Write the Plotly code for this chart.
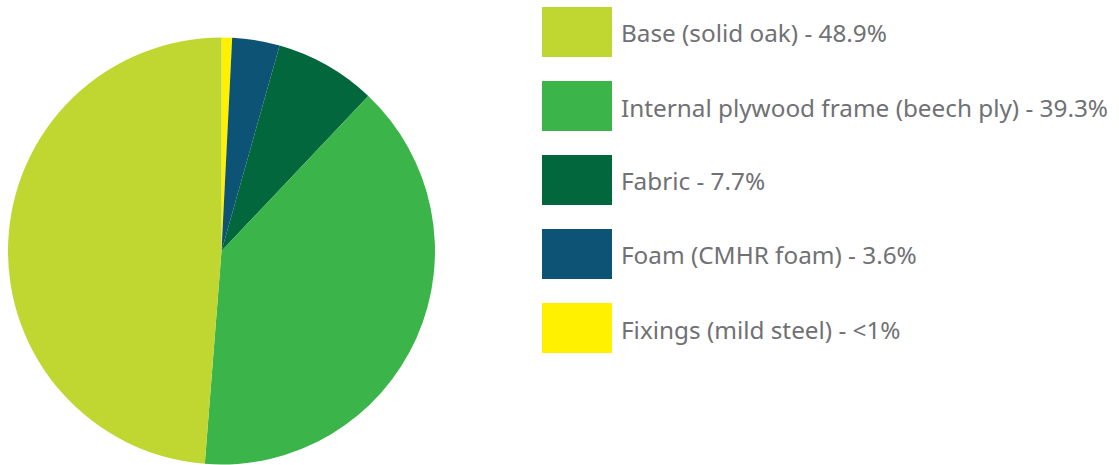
import plotly.graph_objects as go

# Data (legend order)
materials = ["Base (solid oak)", "Internal plywood frame (beech ply)", "Fabric",
             "Foam (CMHR foam)", "Fixings (mild steel)"]
shares = [48.9, 39.3, 7.7, 3.6, 0.8]
share_labels = ["48.9%", "39.3%", "7.7%", "3.6%", "<1%"]
colors = ["#bfd730", "#3bb44a", "#02673c", "#0d5375", "#fff100"]

W, H = 1119, 465

fig = go.Figure()
# Pie drawn clockwise from 12 o'clock starting with the last legend item
fig.add_trace(go.Pie(
    labels=materials[::-1],
    values=shares[::-1],
    sort=False,
    direction="clockwise",
    rotation=0,
    marker=dict(colors=colors[::-1], line=dict(width=0)),
    textinfo="none",
    hoverinfo="label+percent",
    showlegend=False,
    domain=dict(x=[8 / W, 435 / W], y=[0.5 / H, 427.5 / H]),
))

# Custom legend with large swatches
sw_x0, sw_w, sw_h = 542, 70, 50
first_top, step = 7, 74
text_x = 619
for i, (name, lab, col) in enumerate(zip(materials, share_labels, colors)):
    top = first_top + i * step
    fig.add_shape(type="rect", xref="paper", yref="paper",
                  x0=sw_x0 / W, x1=(sw_x0 + sw_w) / W,
                  y0=1 - (top + sw_h) / H, y1=1 - top / H,
                  fillcolor=col, line=dict(width=0))
    fig.add_annotation(xref="paper", yref="paper",
                       x=text_x / W, y=1 - (top + sw_h / 2 + 1) / H,
                       xanchor="left", yanchor="middle",
                       text=f"{name} - {lab}", showarrow=False,
                       font=dict(family="Noto Sans", size=24.3, color="#707174"))

fig.update_layout(
    width=W, height=H,
    margin=dict(l=0, r=0, t=0, b=0),
    paper_bgcolor="white",
    plot_bgcolor="white",
)

fig.write_html("out.html", config={"displayModeBar": False},
               post_script="document.body.style.margin='0';document.body.style.overflow='hidden';")
